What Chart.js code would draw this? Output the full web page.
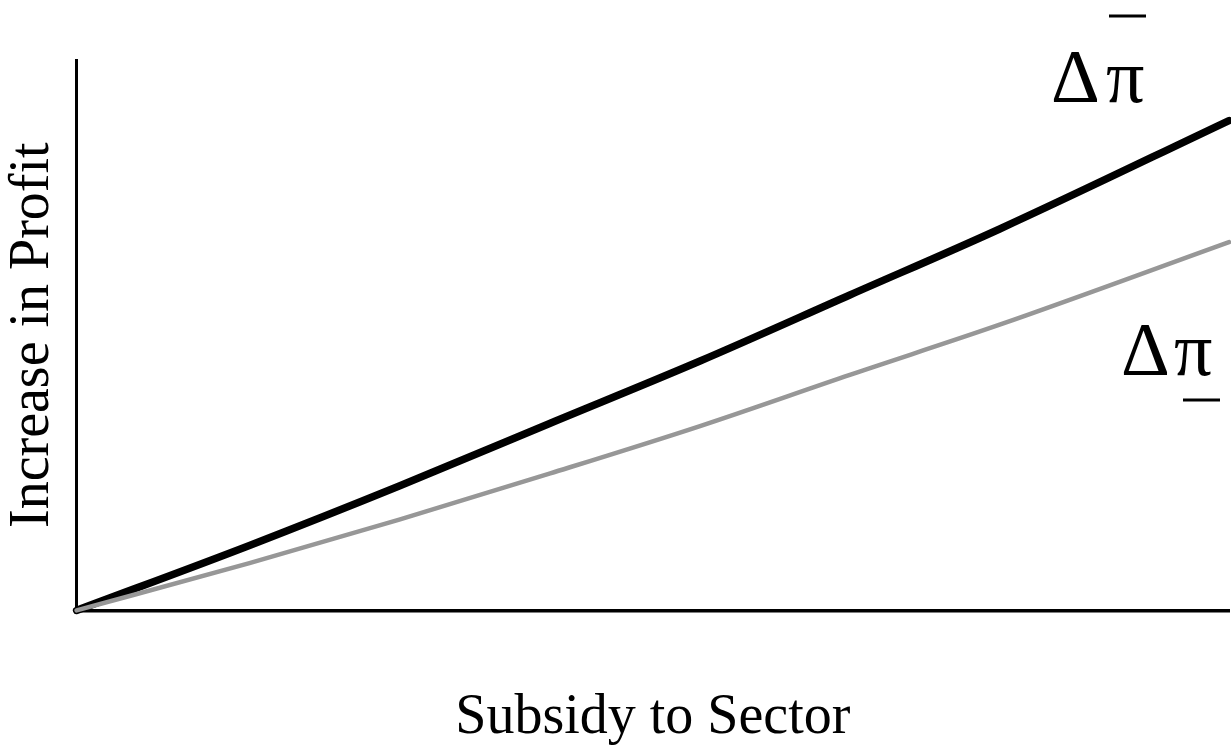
<!DOCTYPE html>
<html>
<head>
<meta charset="utf-8">
<script src="https://cdn.jsdelivr.net/npm/chart.js@4/dist/chart.umd.min.js"></script>
<style>
  html, body { margin: 0; padding: 0; background: #fff; }
  #wrap { width: 1231px; height: 749px; position: relative; }
</style>
</head>
<body>
<div id="wrap"><canvas id="c"></canvas></div>
<script>
// subsidy (x) values
const subsidy = [0, 15, 28, 41.1, 54.1, 67.1, 80.1, 100];
// upper curve (black)  Δπ with bar
const profitUpper = [0, 11.8, 22.6, 34.0, 45.3, 57.3, 69.3, 89.0];
// lower curve (grey)  Δπ underlined
const profitLower = [0, 8.6, 16.5, 24.9, 33.5, 42.8, 51.9, 66.9];

const xTitle = "Subsidy to Sector";
const yTitle = "Increase in Profit";
const serif = "'Liberation Serif', 'Times New Roman', serif";

const toPts = (xs, ys) => xs.map((x, i) => ({ x: x, y: ys[i] }));

// labels next to the curves
const curveLabels = {
  id: "curveLabels",
  afterDraw(chart) {
    const ctx = chart.ctx;
    ctx.save();
    ctx.fillStyle = "#000";
    ctx.strokeStyle = "#000";
    ctx.font = "76px " + serif;
    ctx.textAlign = "left";
    ctx.textBaseline = "alphabetic";
    // upper label + bar over pi
    ctx.fillText("\u0394", 1051, 102);
    ctx.fillText("\u03C0", 1106, 102);
    ctx.lineWidth = 3;
    ctx.beginPath();
    ctx.moveTo(1109, 16);
    ctx.lineTo(1146, 16);
    ctx.stroke();
    // lower label + bar under pi
    ctx.fillText("\u0394", 1121, 375);
    ctx.fillText("\u03C0", 1174, 375);
    ctx.beginPath();
    ctx.moveTo(1183, 400);
    ctx.lineTo(1220, 400);
    ctx.stroke();
    ctx.restore();
  }
};

new Chart(document.getElementById("c"), {
  type: "line",
  data: {
    datasets: [
      {
        label: "lower",
        data: toPts(subsidy, profitLower),
        borderColor: "#979797",
        borderWidth: 4.5,
        borderCapStyle: "round",
        pointRadius: 0,
        cubicInterpolationMode: "monotone",
        clip: 8,
        order: 0
      },
      {
        label: "upper",
        data: toPts(subsidy, profitUpper),
        borderColor: "#000",
        borderWidth: 7.5,
        borderCapStyle: "round",
        pointRadius: 0,
        cubicInterpolationMode: "monotone",
        clip: 8,
        order: 1
      }
    ]
  },
  options: {
    responsive: true,
    maintainAspectRatio: false,
    animation: false,
    layout: { autoPadding: false, padding: { top: 60, right: 2, left: 0, bottom: 0 } },
    plugins: { legend: { display: false }, tooltip: { enabled: false } },
    scales: {
      x: {
        type: "linear",
        min: 0,
        max: 100,
        grid: { display: false, drawTicks: false },
        border: { display: true, color: "#000", width: 3.5 },
        ticks: { display: false },
        title: {
          display: true,
          text: xTitle,
          color: "#000",
          font: { family: serif, size: 56, lineHeight: 1.1 },
          padding: { top: 77, bottom: 0 }
        }
      },
      y: {
        min: 0,
        max: 100,
        grid: { display: false, drawTicks: false },
        border: { display: true, color: "#000", width: 3 },
        ticks: { display: false },
        title: {
          display: true,
          text: yTitle,
          color: "#000",
          font: { family: serif, size: 56, lineHeight: 1.1 },
          padding: { top: 2, bottom: 13 }
        }
      }
    }
  },
  plugins: [curveLabels]
});
</script>
</body>
</html>
